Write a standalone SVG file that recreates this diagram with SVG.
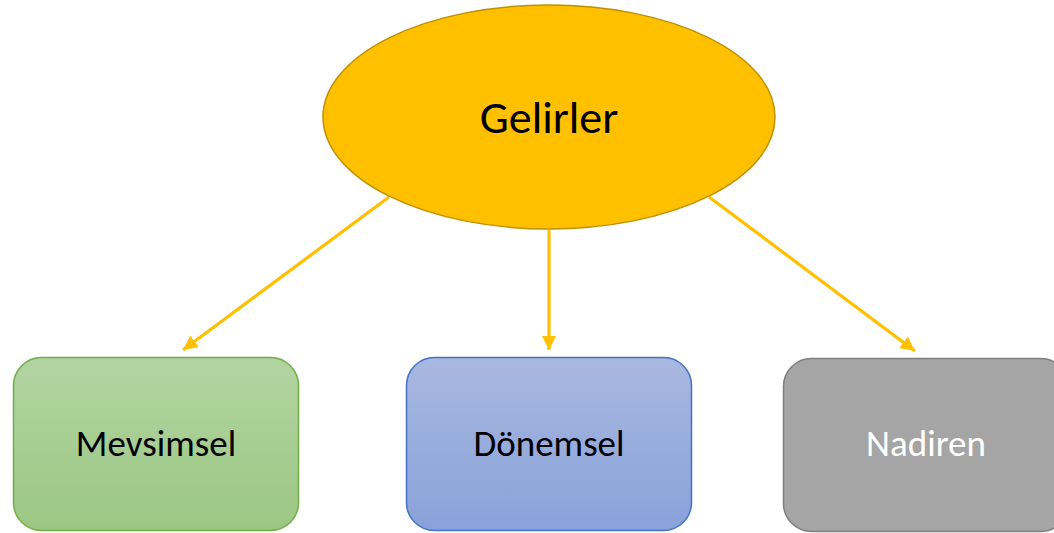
<svg xmlns="http://www.w3.org/2000/svg" width="1054" height="533" viewBox="0 0 1054 533">
<style>
.lbl{font-family:Carlito,"Open Sans","Noto Sans","Liberation Sans",sans-serif;text-anchor:middle;dominant-baseline:central}
.conn{stroke:#FFC000;stroke-width:3.2;fill:none}
</style>
<defs>
<marker id="ah" viewBox="0 0 10 10" refX="10" refY="5" markerWidth="4.5" markerHeight="4.5" orient="auto" markerUnits="strokeWidth">
<path d="M0,0 L10,5 L0,10 z" fill="#FFC000"/>
</marker>
<linearGradient id="gG" x1="0" y1="0" x2="0" y2="1">
<stop offset="0" stop-color="#B2D4A2"/><stop offset="1" stop-color="#9CC783"/>
</linearGradient>
<linearGradient id="gB" x1="0" y1="0" x2="0" y2="1">
<stop offset="0" stop-color="#A9B8E0"/><stop offset="1" stop-color="#88A2DA"/>
</linearGradient>
</defs>
<rect width="1054" height="533" fill="#fff"/>
<g id="connectors">
<line class="conn" x1="389" y1="197" x2="183" y2="350" marker-end="url(#ah)"/>
<line class="conn" x1="549" y1="230" x2="549" y2="350" marker-end="url(#ah)"/>
<line class="conn" x1="709" y1="197" x2="915" y2="351" marker-end="url(#ah)"/>
</g>
<g id="gelirler">
<ellipse cx="549" cy="117" rx="226" ry="112" fill="#FFC000" stroke="#BF9000" stroke-width="1.5"/>
<text class="lbl" x="549" y="117" font-size="46" fill="#000">Gelirler</text>
</g>
<g id="mevsimsel">
<rect x="13.5" y="357.5" width="285" height="173" rx="28" fill="url(#gG)" stroke="#70AD47" stroke-width="1.5"/>
<text class="lbl" x="156" y="443" font-size="37" fill="#000">Mevsimsel</text>
</g>
<g id="donemsel">
<rect x="406.5" y="357.5" width="285" height="173" rx="28" fill="url(#gB)" stroke="#4472C4" stroke-width="1.5"/>
<text class="lbl" x="549" y="443" font-size="37" fill="#000">Dönemsel</text>
</g>
<g id="nadiren">
<rect x="783.5" y="358.5" width="285" height="173" rx="28" fill="#A5A5A5" stroke="#7F7F7F" stroke-width="1.5"/>
<text class="lbl" x="926" y="443" font-size="37" fill="#fff">Nadiren</text>
</g>
</svg>
